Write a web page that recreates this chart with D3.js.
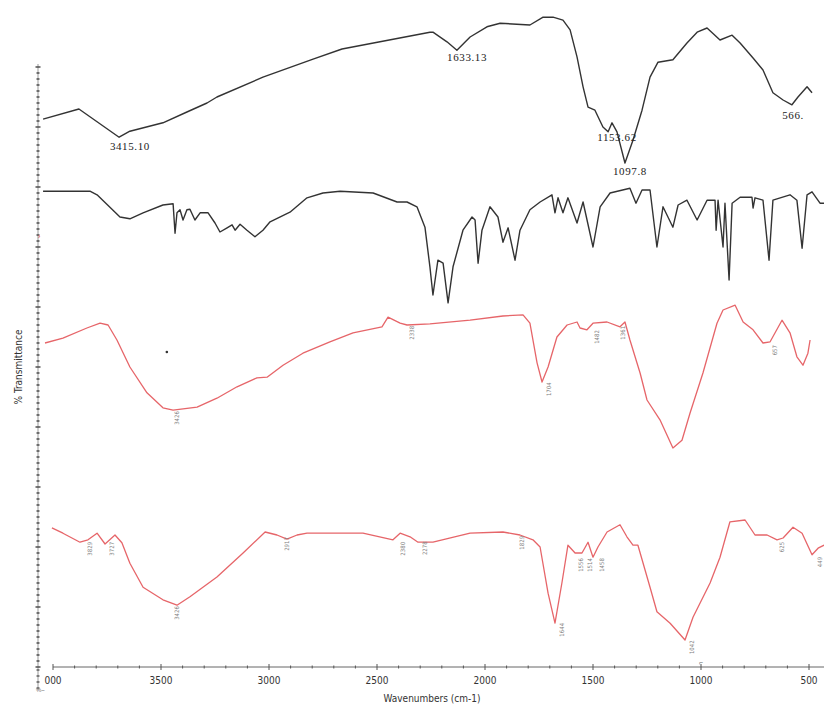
<!DOCTYPE html>
<html><head><meta charset="utf-8">
<script src="https://cdn.jsdelivr.net/npm/d3@7"></script>
<style>body{margin:0;background:#fff}svg{display:block}</style>
</head><body>
<script>
// ---- data (wavenumber cm-1, transmittance in stacked display units) ----
const traceA = [[4046,91.3],[3880,93.0],[3694,88.3],[3644,89.3],[3491,90.7],[3380,92.5],[3287,94.0],[3241,95.0],[3028,98.3],[2796,101.3],[2662,103.0],[2486,104.2],[2255,105.8],[2241,105.8],[2176,104.2],[2130,102.8],[2069,105.0],[1991,106.7],[1930,107.3],[1792,107.0],[1731,108.3],[1685,108.3],[1639,107.8],[1606,106.2],[1574,101.7],[1546,96.7],[1523,93.3],[1491,92.8],[1454,90.0],[1430,89.2],[1412,90.7],[1389,89.2],[1352,84.0],[1315,87.8],[1273,92.8],[1236,98.3],[1199,100.8],[1130,101.2],[1065,104.0],[1018,105.8],[972,106.5],[912,104.5],[856,105.3],[819,104.0],[759,101.5],[713,99.5],[667,95.7],[620,94.5],[579,93.7],[551,95.0],[509,96.7],[486,95.7]];
const traceB = [[4046,79.3],[3829,79.3],[3796,78.7],[3690,75.0],[3644,74.7],[3583,75.7],[3491,77.0],[3444,77.2],[3435,72.3],[3426,75.7],[3412,76.2],[3398,74.5],[3380,76.2],[3366,76.3],[3343,74.5],[3319,75.7],[3282,75.7],[3250,74.0],[3227,72.5],[3194,73.2],[3171,73.7],[3157,72.8],[3134,73.8],[3102,72.8],[3065,71.7],[3028,72.8],[2995,74.2],[2903,75.8],[2824,78.2],[2750,79.0],[2671,79.3],[2518,79.0],[2407,77.5],[2361,77.5],[2315,76.7],[2278,73.3],[2255,66.7],[2241,62.0],[2218,67.8],[2194,67.3],[2171,60.7],[2148,66.7],[2102,72.8],[2060,75.0],[2046,74.5],[2032,67.3],[2014,72.8],[1977,76.7],[1940,75.0],[1917,70.8],[1893,73.2],[1861,67.8],[1838,72.8],[1792,76.2],[1745,77.5],[1690,78.7],[1676,75.7],[1662,78.2],[1639,75.7],[1616,78.2],[1574,74.0],[1546,77.5],[1500,70.0],[1467,76.7],[1421,79.0],[1329,79.8],[1301,77.3],[1273,79.5],[1236,79.5],[1204,70.0],[1176,76.7],[1130,73.3],[1106,77.0],[1065,77.8],[1018,74.5],[972,77.8],[935,77.8],[930,72.8],[921,77.8],[898,70.0],[889,77.3],[870,64.5],[856,77.3],[819,78.3],[764,78.3],[759,76.5],[750,78.2],[713,77.8],[685,67.8],[667,77.8],[588,78.7],[556,77.8],[532,69.8],[509,78.7],[486,79.2],[449,77.3],[430,77.3]];
const traceC = [[4037,54.0],[3954,54.8],[3843,56.5],[3782,57.3],[3745,57.0],[3704,54.5],[3644,50.0],[3565,45.7],[3491,43.2],[3444,42.8],[3333,43.3],[3241,44.8],[3148,46.7],[3056,48.2],[3009,48.3],[2935,50.3],[2843,52.3],[2718,54.2],[2611,55.7],[2477,56.7],[2449,58.3],[2393,57.3],[2361,57.0],[2255,57.2],[2069,57.8],[1917,58.5],[1824,58.7],[1792,57.3],[1759,50.7],[1736,47.5],[1708,50.0],[1667,55.0],[1620,57.0],[1574,57.5],[1560,56.5],[1528,56.2],[1500,57.3],[1435,57.5],[1375,56.7],[1352,57.5],[1329,54.5],[1282,49.0],[1250,44.5],[1190,41.2],[1130,36.5],[1088,37.8],[1051,42.3],[991,49.0],[926,57.3],[898,59.5],[842,60.3],[805,57.5],[759,56.2],[713,54.0],[680,54.2],[625,57.8],[588,55.7],[556,51.7],[528,50.3],[505,52.3],[495,54.5]];
const traceD = [[4005,23.2],[3954,22.3],[3875,20.8],[3838,21.2],[3796,22.3],[3759,20.5],[3713,22.0],[3681,20.7],[3644,17.3],[3583,13.3],[3491,11.2],[3426,10.3],[3366,11.7],[3241,15.0],[3120,19.0],[3018,22.5],[2963,22.0],[2917,21.3],[2870,22.0],[2824,22.3],[2565,22.3],[2426,21.2],[2393,22.3],[2347,21.7],[2310,20.8],[2241,20.8],[2069,22.3],[1917,22.5],[1838,22.0],[1778,21.2],[1745,20.0],[1708,12.3],[1676,7.3],[1644,14.0],[1616,20.3],[1583,19.0],[1551,19.0],[1523,20.8],[1500,18.3],[1477,20.0],[1435,22.5],[1375,23.7],[1343,21.7],[1315,20.3],[1292,20.3],[1236,13.3],[1204,9.2],[1143,7.3],[1074,4.5],[1037,8.3],[958,14.0],[912,18.3],[866,24.2],[796,24.5],[750,22.0],[694,22.0],[648,21.2],[620,21.5],[574,23.3],[532,22.3],[486,18.7],[458,19.8],[430,20.3]];

// peak labels of the top spectrum (text centre)
const labelsA = [["3415.10",3644,86.8],["1633.13",2083,101.7],["1153.62",1389,88.3],["1097.8",1329,82.7],["566.",574,92.0]];
// small peak labels of the red spectra
const labelsC = [["3426",3426,41.5],["2338",2338,55.7],["1704",1704,46.3],["1482",1482,55.0],["1361",1361,55.7],["657",657,52.8]];
const labelsD = [["3829",3829,19.7],["3727",3727,19.7],["3426",3426,9.0],["2917",2917,20.5],["2380",2380,19.7],["2278",2278,19.8],["1829",1829,20.7],["1644",1644,6.2],["1556",1556,17.0],["1514",1514,17.0],["1458",1458,17.0],["1042",1042,3.3],["625",625,20.0],["449",449,17.5]];
// stray dot in the scan
const strayDots = [[3473,52.5]];

const xTickLabels = [["000",4000],["3500",3500],["3000",3000],["2500",2500],["2000",2000],["1500",1500],["1000",1000],["500",500]];
const xTitle = "Wavenumbers (cm-1)";
const yTitle = "% Transmittance";

// ---- drawing ----
const W = 824, H = 707;
const narrow = "DejaVu Sans Condensed, Liberation Sans Narrow, Liberation Sans, sans-serif";
const svg = d3.select("body").append("svg").attr("width", W).attr("height", H);
const x = d3.scaleLinear().domain([4000, 500]).range([53, 809]);
const y = d3.scaleLinear().domain([0, 100]).range([667, 67]);

const line = d3.line().x(d => x(d[0])).y(d => y(d[1]));
const black = "#222", red = "#e4585c";

[[traceA,black,1.4],[traceB,black,1.4],[traceC,red,1.3],[traceD,red,1.3]].forEach(([t,c,w]) => {
  svg.append("path").datum(t).attr("d", line).attr("fill","none").attr("stroke",c)
    .attr("stroke-width",w).attr("stroke-linejoin","round").attr("stroke-opacity",0.92);
});

svg.selectAll(".dot").data(strayDots).join("circle")
  .attr("cx", d => x(d[0])).attr("cy", d => y(d[1])).attr("r", 1.3).attr("fill","#333");

// top spectrum labels
svg.selectAll(".la").data(labelsA).join("text")
  .attr("x", d => x(d[1])).attr("y", d => y(d[2])).attr("dy","0.35em")
  .attr("text-anchor","middle").attr("font-family","Liberation Serif, DejaVu Serif, serif")
  .attr("font-size",11).attr("letter-spacing",0.6).attr("fill","#222").text(d => d[0]);

// small rotated labels
const small = labelsC.concat(labelsD);
svg.selectAll(".ls").data(small).join("text")
  .attr("transform", d => `translate(${x(d[1])},${y(d[2])}) rotate(-90)`)
  .attr("dy","0.35em").attr("text-anchor","middle")
  .attr("font-family", narrow)
  .attr("font-size",6).attr("fill","#808080").text(d => d[0]);

// bottom axis
const axisY = y(0);
const gx = svg.append("g");
gx.append("line").attr("x1", x(4000)).attr("x2", W).attr("y1", axisY).attr("y2", axisY).attr("stroke","#666").attr("stroke-width",1);
const minor = d3.range(4000, 399, -100);
gx.selectAll(".mt").data(minor).join("line")
  .attr("x1", d => x(d)).attr("x2", d => x(d))
  .attr("y1", d => d % 500 === 0 ? axisY - 3 : axisY - 1.5)
  .attr("y2", d => d % 500 === 0 ? axisY + 3 : axisY + 1.5)
  .attr("stroke","#555").attr("stroke-width",1);
gx.selectAll(".tl").data(xTickLabels).join("text")
  .attr("x", d => x(d[1])).attr("y", axisY + 17)
  .attr("text-anchor","middle").attr("font-family", narrow)
  .attr("font-size",10).attr("fill","#333").text(d => d[0]);
svg.append("text").attr("x", 432).attr("y", 702).attr("text-anchor","middle")
  .attr("font-family", narrow).attr("font-size",10).attr("fill","#333").text(xTitle);

// left axis
const axX = 38;
svg.append("line").attr("x1", axX).attr("x2", axX).attr("y1", y(100.5)).attr("y2", 690).attr("stroke","#999").attr("stroke-width",1);
const yt = d3.range(0, 101, 1);
svg.selectAll(".yt").data(yt).join("line")
  .attr("x1", d => d % 10 === 0 ? axX - 2.5 : axX - 1.5).attr("x2", d => d % 10 === 0 ? axX + 2.5 : axX + 1.5)
  .attr("y1", d => y(d)).attr("y2", d => y(d)).attr("stroke","#444").attr("stroke-width",1.4);
const yt2 = d3.range(-0.5, -4, -1);
svg.selectAll(".yt2").data(yt2).join("line")
  .attr("x1", axX - 1.5).attr("x2", axX + 1.5).attr("y1", d => y(d)).attr("y2", d => y(d)).attr("stroke","#444").attr("stroke-width",1.2);
svg.append("text").attr("transform", `translate(22,${y(50)}) rotate(-90)`).attr("text-anchor","middle")
  .attr("font-family", narrow).attr("font-size",10).attr("fill","#333").text(yTitle);
svg.append("text").attr("x", axX + 1).attr("y", y(71.4)).attr("text-anchor","middle")
  .attr("font-family","Liberation Sans, sans-serif").attr("font-size",8).attr("fill", red).text("›");
svg.append("text").attr("x", 36).attr("y", 692).attr("font-family","Liberation Sans, sans-serif").attr("font-size",6).attr("fill","#777").text("%~");
svg.append("text").attr("x", x(1000)).attr("y", axisY - 2).attr("text-anchor","middle")
  .attr("font-family","Liberation Sans, sans-serif").attr("font-size",7).attr("fill","#666").text("⌐");
</script>
</body></html>
